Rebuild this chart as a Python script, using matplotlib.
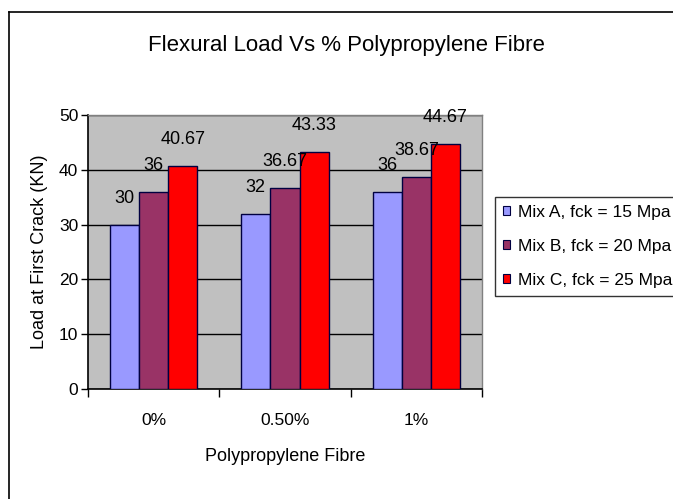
import numpy as np
import matplotlib.pyplot as plt
from matplotlib.lines import Line2D
from matplotlib.patches import Patch

plt.rcParams['font.family'] = ['Liberation Sans', 'DejaVu Sans']

# Datos del grafico
categorias = ['0%', '0.50%', '1%']
mix_a = [30, 32, 36]
mix_b = [36, 36.67, 38.67]
mix_c = [40.67, 43.33, 44.67]
etiquetas_a = ['30', '32', '36']
etiquetas_b = ['36', '36.67', '38.67']
etiquetas_c = ['40.67', '43.33', '44.67']
series = ['Mix A, fck = 15 Mpa', 'Mix B, fck = 20 Mpa', 'Mix C, fck = 25 Mpa']
colores = ['#9999FF', '#993366', '#FF0000']

fig = plt.figure(figsize=(6.73, 4.99), dpi=100)
ax = fig.add_axes([88/673, 1 - 389/499, 394/673, 274/499])

# Marco exterior del grafico (recortado a la derecha y abajo)
fig.add_artist(Line2D([9/673, 9/673], [0, 1 - 12/499], color='black', lw=1.2,
                      transform=fig.transFigure))
fig.add_artist(Line2D([9/673, 1], [1 - 12/499, 1 - 12/499], color='black', lw=1.2,
                      transform=fig.transFigure))

ax.set_facecolor('#C0C0C0')
x = np.arange(len(categorias)) + 0.5
ancho = 1 / 4.5

for i, (vals, etiq) in enumerate(zip([mix_a, mix_b, mix_c],
                                     [etiquetas_a, etiquetas_b, etiquetas_c])):
    pos = x + (i - 1) * ancho
    ax.bar(pos, vals, width=ancho, color=colores[i], edgecolor='#000040',
           linewidth=1.0, zorder=3)
    for px, v, t in zip(pos, vals, etiq):
        ax.annotate(t, (px, v), xytext=(0, 19), textcoords='offset points',
                    ha='center', va='center', fontsize=13, zorder=4)

ax.set_xlim(0, 3)
ax.set_ylim(0, 50)
ax.set_yticks([0, 10, 20, 30, 40, 50])
ax.yaxis.grid(True, color='black', lw=1.0, zorder=1)
ax.set_axisbelow(True)

ax.set_xticks([0, 1, 2, 3])
ax.set_xticklabels([])
ax.set_xticks(x, minor=True)
ax.set_xticklabels(categorias, minor=True, fontsize=12.5)
ax.tick_params(axis='x', which='major', direction='out', length=6, width=1)
ax.tick_params(axis='x', which='minor', length=0, pad=17)
ax.tick_params(axis='y', direction='out', length=5, width=1, labelsize=12.5, pad=2)

for s in ['left', 'bottom']:
    ax.spines[s].set_color('black')
    ax.spines[s].set_linewidth(1.2)
for s in ['top', 'right']:
    ax.spines[s].set_color('#808080')
    ax.spines[s].set_linewidth(1.0)

ax.set_xlabel('Polypropylene Fibre', fontsize=13, labelpad=15)
ax.set_ylabel('Load at First Crack (KN)', fontsize=13, labelpad=8)

fig.text(346/673, 1 - 46/499, 'Flexural Load Vs % Polypropylene Fibre',
         ha='center', va='center', fontsize=16)

handles = [Patch(facecolor=c, edgecolor='#000040', lw=0.8) for c in colores]
leg = fig.legend(handles, series, loc='upper left',
                 bbox_to_anchor=(495/673, 1 - 197/499), fontsize=12.5,
                 frameon=True, fancybox=False, handlelength=0.4, handleheight=0.4,
                 handletextpad=0.45, labelspacing=1.1, borderpad=0.45,
                 borderaxespad=0)
leg.get_frame().set_edgecolor('black')
leg.get_frame().set_linewidth(1.0)

fig.savefig('out.png', dpi=100)
